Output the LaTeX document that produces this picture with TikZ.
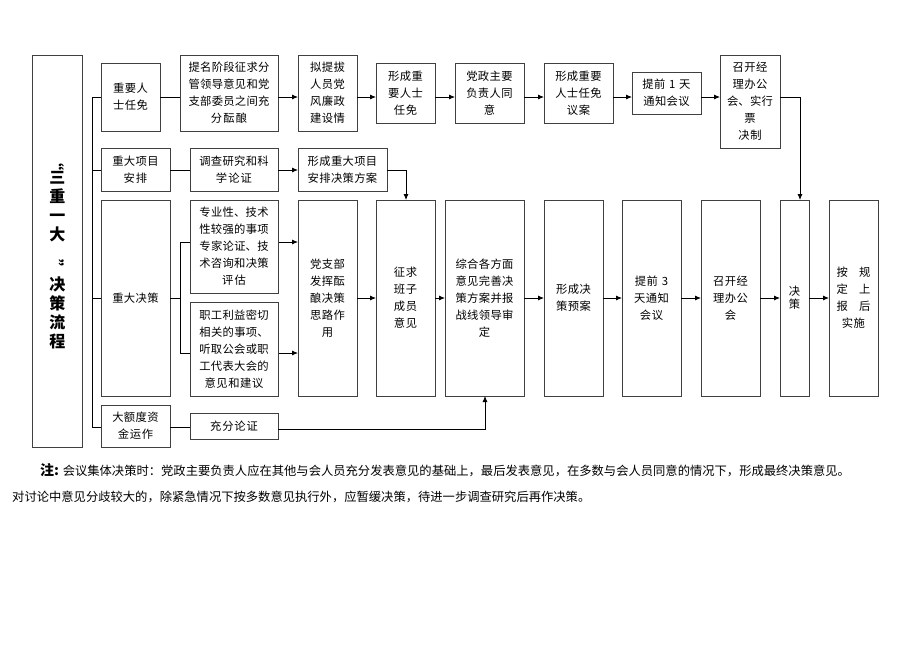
\documentclass[tikz,border=0pt]{standalone}
\usepackage{fontspec}
\setmainfont{Noto Sans CJK SC}
\XeTeXlinebreaklocale "zh"
\XeTeXlinebreakskip=0pt plus 1pt
\usetikzlibrary{arrows.meta}
\newcommand\bx[6]{\pgfmathsetmacro\bw{#4-#2}\pgfmathsetmacro\bh{#5-#3}\pgfmathsetmacro\tw{#4-#2-4}%
\node[bx,anchor=north west,minimum width=\bw pt,minimum height=\bh pt,text width=\tw pt] (#1) at (#2,#3) {#6};}
\begin{document}
\begin{tikzpicture}[x=1pt,y=-1pt,
 bx/.style={draw=black!75,line width=0.9pt,fill=white,inner sep=2pt,outer sep=0pt,align=center,font=\fontsize{11.3}{17}\selectfont},
 ln/.style={line width=0.8pt,black},
 ar/.style={ln,-{Latex[length=6pt,width=5pt]}}]
\useasboundingbox (0,0) rectangle (920,651);
\coordinate (r1) at (0,97); \coordinate (r2) at (0,170); \coordinate (r3) at (0,298);
\coordinate (r4) at (0,427); \coordinate (ra) at (0,242); \coordinate (rb) at (0,353);
\coordinate (r5) at (0,429);
\coordinate (bus) at (92,0); \coordinate (bus2) at (180,0);
\coordinate (c1) at (800,0); \coordinate (c2) at (406,0); \coordinate (c3) at (485,0);
% left title
\node[draw=black!75,line width=0.9pt,anchor=north west,minimum width=50pt,minimum height=392pt,inner sep=0pt,align=center,font=\fontsize{16}{19}\selectfont\bfseries] (ttl) at (32,55) {\rotatebox{-90}{“}\\三\\重\\一\\大\\\rotatebox{-90}{”}\\决\\策\\流\\程};
% connectors drawn first (behind boxes)
\draw[ln] (bus|-r1) -- (bus|-r4);
\draw[ln] (bus2|-ra) -- (bus2|-rb);
\draw[ar] (bus2|-ra) -- (298,242);
\draw[ar] (bus2|-rb) -- (298,353);
% boxes
\bx{a1}{101}{63}{160}{131}{重要人\\士任免}
\bx{a2}{180}{55}{278}{131}{提名阶段征求分\\管领导意见和党\\支部委员之间充\\分酝酿}
\bx{a3}{298}{55}{357}{131}{拟提拔\\人员党\\风廉政\\建设情}
\bx{a4}{376}{63}{435}{123}{形成重\\要人士\\任免}
\bx{a5}{455}{63}{524}{123}{党政主要\\负责人同\\意}
\bx{a6}{544}{63}{613}{123}{形成重要\\人士任免\\议案}
\bx{a7}{632}{72}{701}{114}{提前 1 天\\通知会议}
\bx{a8}{720}{55}{780}{148}{召开经\\理办公\\会、实行\\票\\决制}
\bx{b1}{101}{148}{170}{191}{重大项目\\安排}
\bx{b2}{190}{148}{278}{191}{调查研究和科\\学论证}
\bx{b3}{298}{148}{387}{191}{形成重大项目\\安排决策方案}
\bx{c0}{101}{200}{170}{396}{重大决策}
\bx{ca}{190}{200}{278}{293}{专业性、技术\\性较强的事项\\专家论证、技\\术咨询和决策\\评估}
\bx{cb}{190}{302}{278}{396}{职工利益密切\\相关的事项、\\听取公会或职\\工代表大会的\\意见和建议}
\bx{d1}{298}{200}{357}{396}{党支部\\发挥酝\\酿决策\\思路作\\用}
\bx{d2}{376}{200}{435}{396}{征求\\班子\\成员\\意见}
\bx{d3}{445}{200}{524}{396}{综合各方面\\意见完善决\\策方案并报\\战线领导审\\定}
\bx{d4}{544}{200}{603}{396}{形成决\\策预案}
\bx{d5}{622}{200}{681}{396}{提前 3\\天通知\\会议}
\bx{d6}{701}{200}{760}{396}{召开经\\理办公\\会}
\node[bx,anchor=north west,minimum width=29pt,minimum height=196pt,text width=14pt,inner sep=2pt,font=\fontsize{11.3}{13}\selectfont] (d7) at (780,200) {决\\策};
\bx{d8}{829}{200}{878}{396}{按\quad 规\\定\quad 上\\报\quad 后\\实施}
\bx{e1}{101}{405}{170}{447}{大额度资\\金运作}
\bx{e2}{190}{413}{278}{439}{充分论证}
% connectors
\draw[ln] (a1.east|-r1) -- (a2.west|-r1);
\draw[ln] (b1.east|-r2) -- (b2.west|-r2);
\draw[ln] (c0.east|-r3) -- (bus2|-r3);
\draw[ln] (e1.east|-r4) -- (e2.west|-r4);
\draw[ln] (bus|-r1) -- (a1.west|-r1);
\draw[ln] (bus|-r2) -- (b1.west|-r2);
\draw[ln] (bus|-r3) -- (c0.west|-r3);
\draw[ln] (bus|-r4) -- (e1.west|-r4);
\draw[ar] (a2.east|-r1) -- (a3.west|-r1);
\draw[ar] (a3.east|-r1) -- (a4.west|-r1);
\draw[ar] (a4.east|-r1) -- (a5.west|-r1);
\draw[ar] (a5.east|-r1) -- (a6.west|-r1);
\draw[ar] (a6.east|-r1) -- (a7.west|-r1);
\draw[ar] (a7.east|-r1) -- (a8.west|-r1);
\draw[ar] (a8.east|-r1) -- (c1|-r1) -- (c1|-d7.north);
\draw[ar] (b2.east|-r2) -- (b3.west|-r2);
\draw[ar] (b3.east|-r2) -- (c2|-r2) -- (c2|-d2.north);
\draw[ar] (d1.east|-r3) -- (d2.west|-r3);
\draw[ar] (d2.east|-r3) -- (d3.west|-r3);
\draw[ar] (d3.east|-r3) -- (d4.west|-r3);
\draw[ar] (d4.east|-r3) -- (d5.west|-r3);
\draw[ar] (d5.east|-r3) -- (d6.west|-r3);
\draw[ar] (d6.east|-r3) -- (d7.west|-r3);
\draw[ar] (d7.east|-r3) -- (d8.west|-r3);
\draw[ar] (e2.east|-r5) -- (c3|-r5) -- (c3|-d3.south);
% note
\node[anchor=west,inner sep=0pt,font=\fontsize{12.3}{15}\selectfont] (n1) at (40,470) {{\bfseries\fontsize{14}{15}\selectfont 注:} 会议集体决策时：党政主要负责人应在其他与会人员充分发表意见的基础上，最后发表意见，在多数与会人员同意的情况下，形成最终决策意见。};
\node[anchor=west,inner sep=0pt,font=\fontsize{12.3}{15}\selectfont] (n2) at (12,497) {对讨论中意见分歧较大的，除紧急情况下按多数意见执行外，应暂缓决策，待进一步调查研究后再作决策。};
\end{tikzpicture}
\end{document}
